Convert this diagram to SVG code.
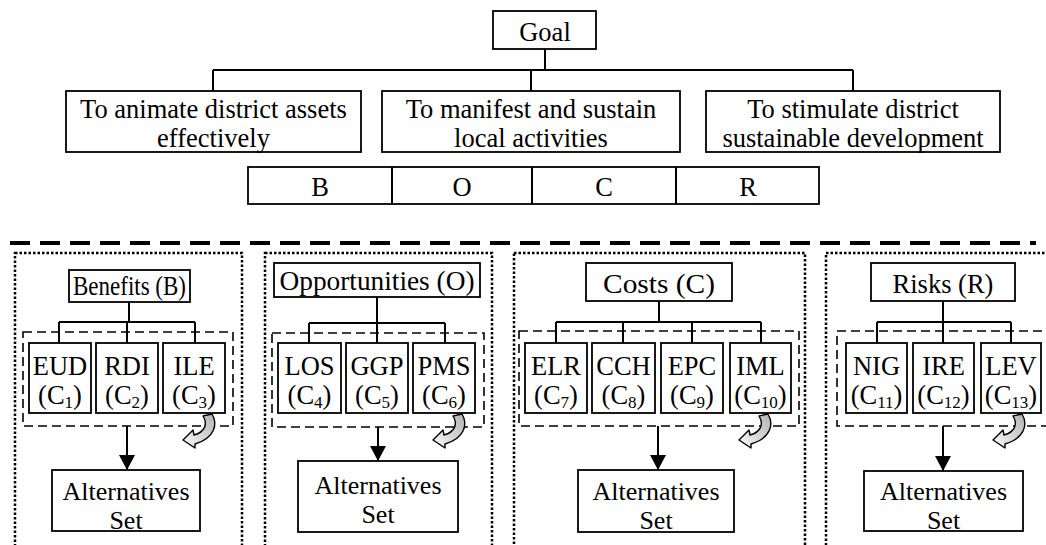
<svg xmlns="http://www.w3.org/2000/svg" width="1046" height="545" viewBox="0 0 1046 545">
<defs>
<style>
.box{fill:#fff;stroke:#000;stroke-width:1.8}
.line{fill:none;stroke:#000;stroke-width:2}
.dotted{fill:none;stroke:#000;stroke-width:2.5;stroke-dasharray:2.5 2}
.dashed{fill:none;stroke:#000;stroke-width:1.6;stroke-dasharray:9 5}
.sep{fill:none;stroke:#000;stroke-width:4;stroke-dasharray:20 10}
text{font-family:"Liberation Serif","Times New Roman",serif;font-size:26.5px;fill:#000;text-anchor:middle}
.sub{font-size:17px}
.alt{font-size:26px}
.curl{fill:url(#cg);stroke:#000;stroke-width:1.4;stroke-linejoin:round}
</style>
<linearGradient id="cg" x1="1" y1="0" x2="0" y2="1">
<stop offset="0" stop-color="#b4b4b4"/>
<stop offset="0.55" stop-color="#d8d8d8"/>
<stop offset="1" stop-color="#ffffff"/>
</linearGradient>
<marker id="ah" viewBox="0 0 15 16" refX="15" refY="8" markerWidth="15" markerHeight="16" markerUnits="userSpaceOnUse" orient="auto">
<path d="M0,0 L15,8 L0,16 Z" fill="#000"/>
</marker>
<path id="curlshape" d="M22,2 L31,0 C37,10 34,24 14,30 L14,34 L2,26 L12,16 L13,21 C24,18 27,10 22,2 Z"/>
</defs>

<g id="connectors">
<path class="line" d="M545,49 V70 M213,70 H853 M213,70 V91 M531,70 V91 M853,70 V91"/>
<path class="line" d="M129,302 V322 M59,322 H195 M59,322 V343 M127,322 V343 M195,322 V343"/>
<path class="line" d="M377,297 V323 M309,323 H445 M309,323 V343 M377,323 V343 M445,323 V343"/>
<path class="line" d="M659,301 V322 M556,322 H761 M556,322 V343 M623,322 V343 M692,322 V343 M761,322 V343"/>
<path class="line" d="M943,301 V322 M877,322 H1011 M877,322 V343 M943,322 V343 M1011,322 V343"/>
<line class="line" x1="127" y1="426" x2="127" y2="470" marker-end="url(#ah)"/>
<line class="line" x1="378" y1="427" x2="378" y2="461" marker-end="url(#ah)"/>
<line class="line" x1="658" y1="426" x2="658" y2="470" marker-end="url(#ah)"/>
<line class="line" x1="943" y1="426" x2="943" y2="471" marker-end="url(#ah)"/>
</g>

<g id="goal"><rect class="box" x="493" y="11" width="103" height="38"/><text x="545" y="41">Goal</text></g>
<g id="obj1"><rect class="box" x="66" y="91" width="295" height="61"/><text x="213.5" y="118">To animate district assets</text><text x="213.5" y="147">effectively</text></g>
<g id="obj2"><rect class="box" x="382" y="91" width="298" height="61"/><text x="531" y="118">To manifest and sustain</text><text x="531" y="147">local activities</text></g>
<g id="obj3"><rect class="box" x="706" y="91" width="294" height="61"/><text x="853" y="118">To stimulate district</text><text x="853" y="147">sustainable development</text></g>
<g id="bocr">
<rect class="box" x="248" y="167" width="571" height="37"/>
<path class="line" d="M392,167 V204 M532,167 V204 M676,167 V204"/>
<text x="320" y="196">B</text><text x="462" y="196">O</text><text x="604" y="196">C</text><text x="748" y="196">R</text>
</g>

<line id="separator" class="sep" x1="10" y1="243" x2="1036" y2="243"/>

<g id="panel-benefits">
<rect class="dotted" x="15" y="253" width="227" height="300"/>
<rect class="dashed" x="23" y="332" width="210" height="94"/>
<g id="benefits"><rect class="box" x="69" y="270" width="121" height="32"/><text x="129.5" y="295" textLength="113" lengthAdjust="spacingAndGlyphs">Benefits (B)</text></g>
<g id="c1"><rect class="box" x="29" y="343" width="62" height="70"/><text x="60" y="375">EUD</text><text x="60" y="404">(C<tspan class="sub" dy="4">1</tspan><tspan dy="-4">)</tspan></text></g>
<g id="c2"><rect class="box" x="96" y="343" width="62" height="70"/><text x="127" y="375">RDI</text><text x="127" y="404">(C<tspan class="sub" dy="4">2</tspan><tspan dy="-4">)</tspan></text></g>
<g id="c3"><rect class="box" x="163" y="343" width="62" height="70"/><text x="194" y="375">ILE</text><text x="194" y="404">(C<tspan class="sub" dy="4">3</tspan><tspan dy="-4">)</tspan></text></g>
<use href="#curlshape" class="curl" x="181" y="414"/>
<g id="alt-b"><rect class="box" x="52" y="470" width="148" height="61"/><text class="alt" x="126" y="500">Alternatives</text><text class="alt" x="126" y="528.5">Set</text></g>
</g>

<g id="panel-opportunities">
<rect class="dotted" x="265" y="253" width="227" height="300"/>
<rect class="dashed" x="272" y="333" width="212" height="94"/>
<g id="opportunities"><rect class="box" x="274" y="263" width="206" height="34"/><text x="377" y="290" textLength="195" lengthAdjust="spacingAndGlyphs">Opportunities (O)</text></g>
<g id="c4"><rect class="box" x="278" y="343" width="63" height="70"/><text x="309.5" y="375">LOS</text><text x="309.5" y="404">(C<tspan class="sub" dy="4">4</tspan><tspan dy="-4">)</tspan></text></g>
<g id="c5"><rect class="box" x="346" y="343" width="62" height="70"/><text x="377" y="375">GGP</text><text x="377" y="404">(C<tspan class="sub" dy="4">5</tspan><tspan dy="-4">)</tspan></text></g>
<g id="c6"><rect class="box" x="413" y="343" width="62" height="70"/><text x="444" y="375">PMS</text><text x="444" y="404">(C<tspan class="sub" dy="4">6</tspan><tspan dy="-4">)</tspan></text></g>
<use href="#curlshape" class="curl" x="431" y="414"/>
<g id="alt-o"><rect class="box" x="298" y="461" width="160" height="71"/><text class="alt" x="378" y="494">Alternatives</text><text class="alt" x="378" y="523">Set</text></g>
</g>

<g id="panel-costs">
<rect class="dotted" x="514" y="253" width="291" height="300"/>
<rect class="dashed" x="519" y="331" width="280" height="95"/>
<g id="costs"><rect class="box" x="586" y="263" width="146" height="38"/><text x="659" y="293" textLength="112" lengthAdjust="spacingAndGlyphs" style="font-size:28px">Costs (C)</text></g>
<g id="c7"><rect class="box" x="525" y="343" width="62" height="70"/><text x="556" y="375">ELR</text><text x="556" y="404">(C<tspan class="sub" dy="4">7</tspan><tspan dy="-4">)</tspan></text></g>
<g id="c8"><rect class="box" x="592" y="343" width="63" height="70"/><text x="623.5" y="375">CCH</text><text x="623.5" y="404">(C<tspan class="sub" dy="4">8</tspan><tspan dy="-4">)</tspan></text></g>
<g id="c9"><rect class="box" x="661" y="343" width="62" height="70"/><text x="692" y="375">EPC</text><text x="692" y="404">(C<tspan class="sub" dy="4">9</tspan><tspan dy="-4">)</tspan></text></g>
<g id="c10"><rect class="box" x="730" y="343" width="61" height="70"/><text x="760.5" y="375">IML</text><text x="760.5" y="404">(C<tspan class="sub" dy="4">10</tspan><tspan dy="-4">)</tspan></text></g>
<use href="#curlshape" class="curl" x="737" y="414"/>
<g id="alt-c"><rect class="box" x="578" y="470" width="156" height="62"/><text class="alt" x="656" y="500">Alternatives</text><text class="alt" x="656" y="528.5">Set</text></g>
</g>

<g id="panel-risks">
<rect class="dotted" x="826" y="253" width="240" height="300"/>
<rect class="dashed" x="837" y="331" width="220" height="95"/>
<g id="risks"><rect class="box" x="871" y="263" width="144" height="38"/><text x="943" y="293">Risks (R)</text></g>
<g id="c11"><rect class="box" x="846" y="343" width="61" height="70"/><text x="876.5" y="375">NIG</text><text x="876.5" y="404">(C<tspan class="sub" dy="4">11</tspan><tspan dy="-4">)</tspan></text></g>
<g id="c12"><rect class="box" x="913" y="343" width="61" height="70"/><text x="943.5" y="375">IRE</text><text x="943.5" y="404">(C<tspan class="sub" dy="4">12</tspan><tspan dy="-4">)</tspan></text></g>
<g id="c13"><rect class="box" x="981" y="343" width="60" height="70"/><text x="1011" y="375">LEV</text><text x="1011" y="404">(C<tspan class="sub" dy="4">13</tspan><tspan dy="-4">)</tspan></text></g>
<use href="#curlshape" class="curl" x="991" y="414"/>
<g id="alt-r"><rect class="box" x="864" y="471" width="159" height="60"/><text class="alt" x="943.5" y="500">Alternatives</text><text class="alt" x="943.5" y="528.5">Set</text></g>
</g>
</svg>
